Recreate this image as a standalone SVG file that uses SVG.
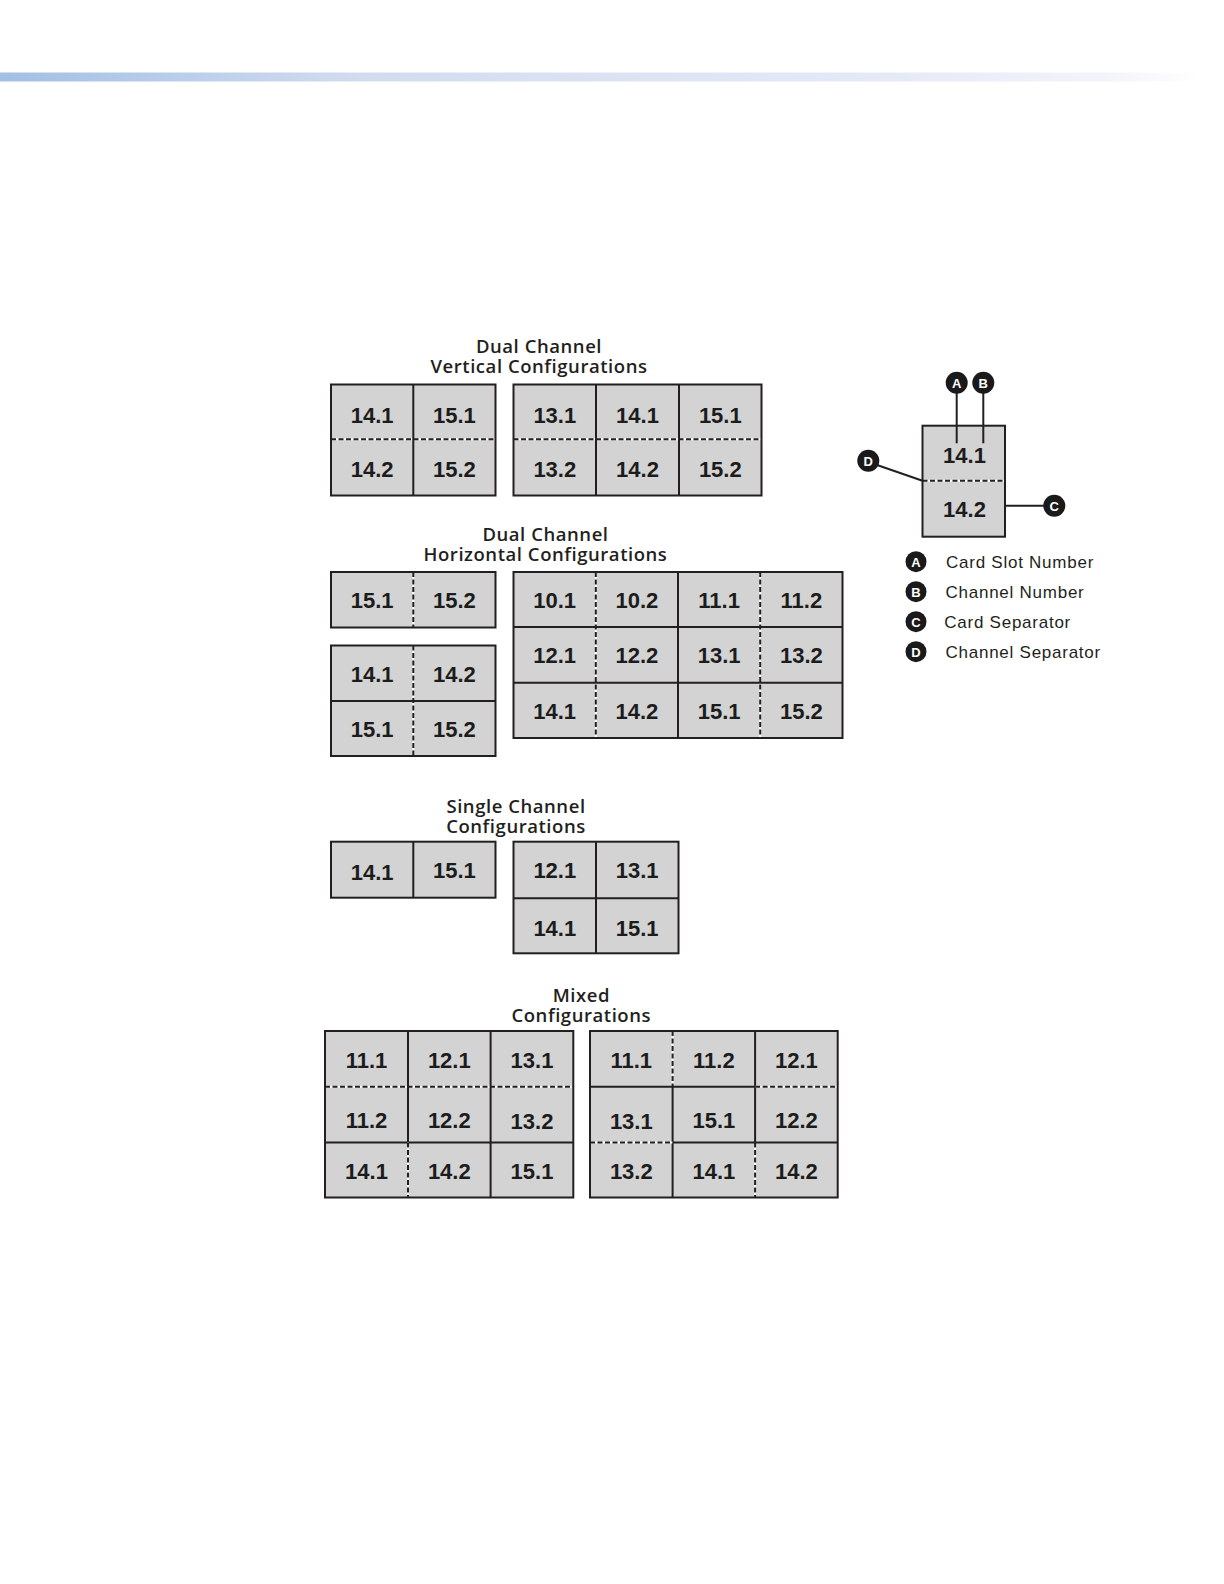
<svg xmlns="http://www.w3.org/2000/svg" width="1224" height="1584" viewBox="0 0 1224 1584">
<defs>
<linearGradient id="bar" x1="0" y1="0" x2="1" y2="0">
<stop offset="0" stop-color="#a3bfe4"/>
<stop offset="0.3" stop-color="#d2dcef"/>
<stop offset="0.75" stop-color="#e6eaf7"/>
<stop offset="0.92" stop-color="#f3f4fb"/>
<stop offset="1" stop-color="#ffffff"/>
</linearGradient>
<style>
.cell{fill:#d3d3d3;stroke:none}
.frame{fill:none;stroke:#231f20;stroke-width:2}
.solid{stroke:#231f20;stroke-width:2;fill:none}
.dbg{stroke:#ffffff;stroke-width:2;fill:none}
.dash{stroke:#231f20;stroke-width:2;stroke-dasharray:5 2.5;fill:none}
.num{font-family:"Liberation Sans",Arial,sans-serif;font-weight:bold;font-size:22px;text-anchor:middle;fill:#1c1c1c}
.title{font-family:"Open Sans","Liberation Sans",sans-serif;font-weight:600;font-size:18.5px;letter-spacing:0.55px;text-anchor:middle;fill:#231f20}
.leg{font-family:"Liberation Sans",Arial,sans-serif;font-size:17px;letter-spacing:0.75px;fill:#231f20}
.dot{fill:#1a1a1a}
.let{font-family:"Liberation Sans",Arial,sans-serif;font-weight:bold;font-size:13px;text-anchor:middle;fill:#ffffff}
.conn{stroke:#231f20;stroke-width:2;fill:none}
</style>
</defs>
<rect width="1224" height="1584" fill="#ffffff"/>
<rect x="0" y="72.5" width="1200" height="9" fill="url(#bar)"/>

<!-- Titles -->
<g id="titles">
<text class="title"><tspan x="539" y="353">Dual Channel</tspan><tspan x="539" y="373">Vertical Configurations</tspan></text>
<text class="title"><tspan x="545.5" y="541">Dual Channel</tspan><tspan x="545.5" y="561">Horizontal Configurations</tspan></text>
<text class="title"><tspan x="516" y="812.7">Single Channel</tspan><tspan x="516" y="832.7">Configurations</tspan></text>
<text class="title"><tspan x="581.3" y="1001.7">Mixed</tspan><tspan x="581.3" y="1021.7">Configurations</tspan></text>
</g>

<!-- Dual Channel Vertical A -->
<g id="dv-a">
<rect class="cell" x="331" y="384.5" width="164.5" height="111"/>
<line class="dbg" x1="331" y1="439.3" x2="495.5" y2="439.3"/>
<line class="dash" x1="331" y1="439.3" x2="495.5" y2="439.3"/>
<line class="solid" x1="413.3" y1="384.5" x2="413.3" y2="495.5"/>
<rect class="frame" x="331" y="384.5" width="164.5" height="111"/>
<text class="num" x="372.2" y="422.6">14.1</text>
<text class="num" x="454.4" y="422.6">15.1</text>
<text class="num" x="372.2" y="476.7">14.2</text>
<text class="num" x="454.4" y="476.7">15.2</text>
</g>

<!-- Dual Channel Vertical B -->
<g id="dv-b">
<rect class="cell" x="513.5" y="384.5" width="248" height="111"/>
<line class="dbg" x1="513.5" y1="439.3" x2="761.5" y2="439.3"/>
<line class="dash" x1="513.5" y1="439.3" x2="761.5" y2="439.3"/>
<line class="solid" x1="596" y1="384.5" x2="596" y2="495.5"/>
<line class="solid" x1="679" y1="384.5" x2="679" y2="495.5"/>
<rect class="frame" x="513.5" y="384.5" width="248" height="111"/>
<text class="num" x="554.8" y="422.6">13.1</text>
<text class="num" x="637.5" y="422.6">14.1</text>
<text class="num" x="720.3" y="422.6">15.1</text>
<text class="num" x="554.8" y="476.7">13.2</text>
<text class="num" x="637.5" y="476.7">14.2</text>
<text class="num" x="720.3" y="476.7">15.2</text>
</g>

<!-- Dual Channel Horizontal A -->
<g id="dh-a">
<rect class="cell" x="331" y="572" width="164.5" height="55.5"/>
<line class="dbg" x1="413.3" y1="572" x2="413.3" y2="627.5"/>
<line class="dash" x1="413.3" y1="572" x2="413.3" y2="627.5"/>
<rect class="frame" x="331" y="572" width="164.5" height="55.5"/>
<text class="num" x="372.2" y="608">15.1</text>
<text class="num" x="454.4" y="608">15.2</text>
</g>

<!-- Dual Channel Horizontal B -->
<g id="dh-b">
<rect class="cell" x="331" y="645.5" width="164.5" height="110.5"/>
<line class="dbg" x1="413.3" y1="645.5" x2="413.3" y2="756"/>
<line class="dash" x1="413.3" y1="645.5" x2="413.3" y2="756"/>
<line class="solid" x1="331" y1="701" x2="495.5" y2="701"/>
<rect class="frame" x="331" y="645.5" width="164.5" height="110.5"/>
<text class="num" x="372.2" y="681.7">14.1</text>
<text class="num" x="454.4" y="681.7">14.2</text>
<text class="num" x="372.2" y="736.7">15.1</text>
<text class="num" x="454.4" y="736.7">15.2</text>
</g>

<!-- Dual Channel Horizontal C -->
<g id="dh-c">
<rect class="cell" x="513.5" y="572" width="329" height="166"/>
<line class="dbg" x1="595.8" y1="572" x2="595.8" y2="738"/>
<line class="dash" x1="595.8" y1="572" x2="595.8" y2="738"/>
<line class="dbg" x1="760.2" y1="572" x2="760.2" y2="738"/>
<line class="dash" x1="760.2" y1="572" x2="760.2" y2="738"/>
<line class="solid" x1="678" y1="572" x2="678" y2="738"/>
<line class="solid" x1="513.5" y1="627" x2="842.5" y2="627"/>
<line class="solid" x1="513.5" y1="682.7" x2="842.5" y2="682.7"/>
<rect class="frame" x="513.5" y="572" width="329" height="166"/>
<text class="num" x="554.6" y="607.5">10.1</text>
<text class="num" x="636.9" y="607.5">10.2</text>
<text class="num" x="719.1" y="607.5">11.1</text>
<text class="num" x="801.4" y="607.5">11.2</text>
<text class="num" x="554.6" y="663.3">12.1</text>
<text class="num" x="636.9" y="663.3">12.2</text>
<text class="num" x="719.1" y="663.3">13.1</text>
<text class="num" x="801.4" y="663.3">13.2</text>
<text class="num" x="554.6" y="718.8">14.1</text>
<text class="num" x="636.9" y="718.8">14.2</text>
<text class="num" x="719.1" y="718.8">15.1</text>
<text class="num" x="801.4" y="718.8">15.2</text>
</g>

<!-- Single Channel A -->
<g id="sc-a">
<rect class="cell" x="331" y="841.7" width="164.5" height="56"/>
<line class="solid" x1="413.3" y1="841.7" x2="413.3" y2="897.7"/>
<rect class="frame" x="331" y="841.7" width="164.5" height="56"/>
<text class="num" x="372.2" y="880">14.1</text>
<text class="num" x="454.4" y="878.3">15.1</text>
</g>

<!-- Single Channel B -->
<g id="sc-b">
<rect class="cell" x="513.5" y="841.7" width="165" height="111.6"/>
<line class="solid" x1="596" y1="841.7" x2="596" y2="953.3"/>
<line class="solid" x1="513.5" y1="898.3" x2="678.5" y2="898.3"/>
<rect class="frame" x="513.5" y="841.7" width="165" height="111.6"/>
<text class="num" x="554.8" y="878.3">12.1</text>
<text class="num" x="637.2" y="878.3">13.1</text>
<text class="num" x="554.8" y="936">14.1</text>
<text class="num" x="637.2" y="936">15.1</text>
</g>

<!-- Mixed A -->
<g id="mx-a">
<rect class="cell" x="325" y="1031" width="248.3" height="166.5"/>
<line class="dbg" x1="325" y1="1086.7" x2="573.3" y2="1086.7"/>
<line class="dash" x1="325" y1="1086.7" x2="573.3" y2="1086.7"/>
<line class="solid" x1="325" y1="1142.5" x2="573.3" y2="1142.5"/>
<line class="solid" x1="408" y1="1031" x2="408" y2="1142.5"/>
<line class="dbg" x1="408" y1="1142.5" x2="408" y2="1197.5"/>
<line class="dash" x1="408" y1="1142.5" x2="408" y2="1197.5"/>
<line class="solid" x1="490.6" y1="1031" x2="490.6" y2="1197.5"/>
<rect class="frame" x="325" y="1031" width="248.3" height="166.5"/>
<text class="num" x="366.5" y="1068.3">11.1</text>
<text class="num" x="449.3" y="1068.3">12.1</text>
<text class="num" x="532" y="1068.3">13.1</text>
<text class="num" x="366.5" y="1127.5">11.2</text>
<text class="num" x="449.3" y="1127.5">12.2</text>
<text class="num" x="532" y="1129">13.2</text>
<text class="num" x="366.5" y="1178.5">14.1</text>
<text class="num" x="449.3" y="1178.5">14.2</text>
<text class="num" x="532" y="1178.5">15.1</text>
</g>

<!-- Mixed B -->
<g id="mx-b">
<rect class="cell" x="590" y="1031" width="247.7" height="166.5"/>
<line class="dbg" x1="672.6" y1="1031" x2="672.6" y2="1086.7"/>
<line class="dash" x1="672.6" y1="1031" x2="672.6" y2="1086.7"/>
<line class="solid" x1="672.6" y1="1086.7" x2="672.6" y2="1197.5"/>
<line class="solid" x1="755.1" y1="1031" x2="755.1" y2="1142.5"/>
<line class="dbg" x1="755.1" y1="1142.5" x2="755.1" y2="1197.5"/>
<line class="dash" x1="755.1" y1="1142.5" x2="755.1" y2="1197.5"/>
<line class="solid" x1="590" y1="1086.7" x2="755.1" y2="1086.7"/>
<line class="dbg" x1="755.1" y1="1086.7" x2="837.7" y2="1086.7"/>
<line class="dash" x1="755.1" y1="1086.7" x2="837.7" y2="1086.7"/>
<line class="dbg" x1="590" y1="1142.5" x2="672.6" y2="1142.5"/>
<line class="dash" x1="590" y1="1142.5" x2="672.6" y2="1142.5"/>
<line class="solid" x1="672.6" y1="1142.5" x2="837.7" y2="1142.5"/>
<rect class="frame" x="590" y="1031" width="247.7" height="166.5"/>
<text class="num" x="631.3" y="1068.3">11.1</text>
<text class="num" x="713.9" y="1068.3">11.2</text>
<text class="num" x="796.4" y="1068.3">12.1</text>
<text class="num" x="631.3" y="1128.7">13.1</text>
<text class="num" x="713.9" y="1128.3">15.1</text>
<text class="num" x="796.4" y="1128.3">12.2</text>
<text class="num" x="631.3" y="1178.5">13.2</text>
<text class="num" x="713.9" y="1178.5">14.1</text>
<text class="num" x="796.4" y="1178.5">14.2</text>
</g>

<!-- Legend example cell -->
<g id="legend-cell">
<rect class="cell" x="922.5" y="425.7" width="82.5" height="111"/>
<line class="dbg" x1="922.5" y1="480.7" x2="1005" y2="480.7"/>
<line class="dash" x1="922.5" y1="480.7" x2="1005" y2="480.7"/>
<rect class="frame" x="922.5" y="425.7" width="82.5" height="111"/>
<text class="num" x="964.5" y="463.3">14.1</text>
<text class="num" x="964.5" y="517.3">14.2</text>
</g>

<!-- Callout connectors -->
<g id="connectors">
<line class="conn" x1="956.7" y1="392" x2="956.7" y2="443.3"/>
<line class="conn" x1="983.3" y1="392" x2="983.3" y2="443.3"/>
<line class="conn" x1="877" y1="465" x2="922.5" y2="480.7"/>
<line class="conn" x1="1005" y1="505.7" x2="1044" y2="505.7"/>
</g>

<!-- Callout markers -->
<g id="callout-a"><circle class="dot" cx="956.7" cy="382.7" r="11"/><text class="let" x="956.7" y="387.5">A</text></g>
<g id="callout-b"><circle class="dot" cx="983.3" cy="382.7" r="11"/><text class="let" x="983.3" y="387.5">B</text></g>
<g id="callout-d"><circle class="dot" cx="868.3" cy="460.7" r="11"/><text class="let" x="868.3" y="465.5">D</text></g>
<g id="callout-c"><circle class="dot" cx="1054.3" cy="505.7" r="11"/><text class="let" x="1054.3" y="510.5">C</text></g>

<!-- Legend list -->
<g id="legend-a"><circle class="dot" cx="916" cy="561.7" r="10.5"/><text class="let" x="916" y="566.5">A</text><text class="leg" x="946" y="568.3">Card Slot Number</text></g>
<g id="legend-b"><circle class="dot" cx="916" cy="591.7" r="10.5"/><text class="let" x="916" y="596.5">B</text><text class="leg" x="945.5" y="598.3">Channel Number</text></g>
<g id="legend-c"><circle class="dot" cx="916" cy="621.7" r="10.5"/><text class="let" x="916" y="626.5">C</text><text class="leg" x="944.3" y="628.3">Card Separator</text></g>
<g id="legend-d"><circle class="dot" cx="916" cy="651.7" r="10.5"/><text class="let" x="916" y="656.5">D</text><text class="leg" x="945.5" y="658.3">Channel Separator</text></g>
</svg>
